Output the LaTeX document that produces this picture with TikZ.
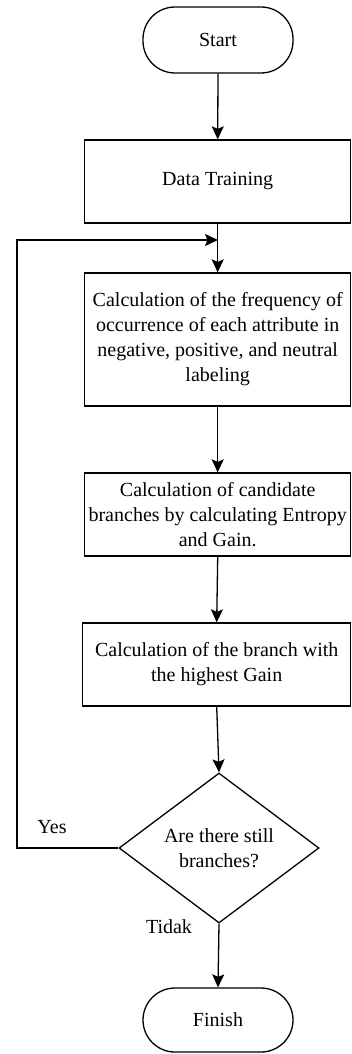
\documentclass[tikz,border=0pt]{standalone}
\usepackage{fontspec}
\setmainfont{Liberation Serif}
\usetikzlibrary{arrows.meta,shapes.geometric}
\begin{document}
\begin{tikzpicture}[x=1pt,y=-1pt,
  every node/.style={font=\fontsize{20}{25}\selectfont},
  line/.style={line width=1.3pt,draw=black},
  arr/.style={line, -{Stealth[length=13pt,width=12pt,inset=2.5pt]}},
  term/.style={line, rectangle, rounded corners=32pt, minimum width=150pt, inner sep=0pt, align=center},
  proc/.style={line, rectangle, minimum width=266pt, inner sep=0pt, align=center},
  dec/.style={line, diamond, aspect=1.333, minimum width=200pt, minimum height=150pt, inner sep=0pt, align=center}]
\useasboundingbox (0,0) rectangle (352,1054);
\node[term, minimum height=66pt] (start) at (218,40) {Start};
\node[proc, minimum height=83pt] (dt) at (217.7,181.5) {Data Training};
\node[proc, minimum height=133pt] (freq) at (217.7,339.5) {Calculation of the frequency of\\occurrence of each attribute in\\negative, positive, and neutral\\labeling};
\node[proc, minimum height=83pt] (cand) at (217.7,514.5) {Calculation of candidate\\branches by calculating Entropy\\and Gain.};
\node[proc, minimum height=83pt, minimum width=268pt] (high) at (216.7,664.5) {Calculation of the branch with\\the highest Gain};
\node[dec] (q) at (219,848) {Are there still\\branches?};
\node[term, minimum height=64pt] (fin) at (218,1020) {Finish};
\coordinate (j) at (218,240);
\coordinate (lx) at (17,848);
\node (yes) at (52,827) {Yes};
\node (tidak) at (169,927) {Tidak};
\draw[arr] (start.south) -- (dt.north);
\draw[arr] (dt.south) -- (freq.north);
\draw[arr] (freq.south) -- (cand.north);
\draw[arr] (cand.south) -- (high.north);
\draw[arr] (high.south) -- (q.north);
\draw[arr] (q.south) -- (fin.north);
\draw[arr] (q.west) -- (lx) |- (j);
\end{tikzpicture}
\end{document}
